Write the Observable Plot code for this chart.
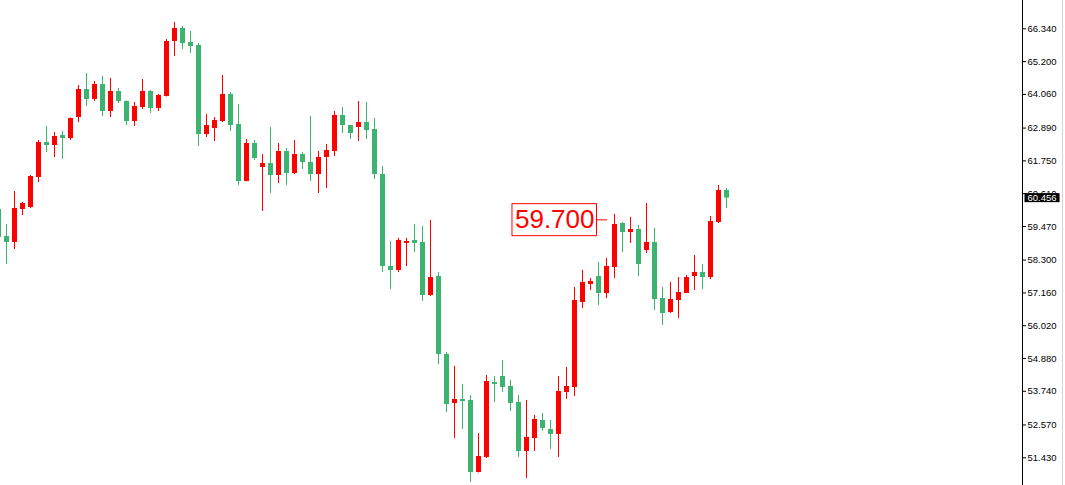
<!DOCTYPE html>
<html>
<head>
<meta charset="utf-8">
<script src="https://cdn.jsdelivr.net/npm/d3@7"></script>
<script src="https://cdn.jsdelivr.net/npm/@observablehq/plot@0.6"></script>
<style>
  html, body { margin: 0; padding: 0; background: #ffffff; }
  #chart { width: 1065px; height: 485px; }
</style>
</head>
<body>
<div id="chart"></div>
<script>
const openPrices = [60.060, 59.121, 58.913, 60.060, 60.129, 61.172, 62.388, 62.284, 62.632, 62.527,
 63.257, 64.231, 63.883, 64.404, 63.466, 64.161, 63.813, 63.118, 63.605, 64.161,
 63.570, 63.987, 65.899, 66.351, 65.864, 65.760, 62.666, 62.875, 63.118, 64.057,
 63.014, 61.033, 62.354, 61.519, 61.659, 61.241, 62.076, 61.311, 61.971, 61.693,
 61.276, 61.867, 62.076, 63.327, 62.979, 62.910, 63.083, 62.840, 61.276, 58.078,
 57.940, 58.878, 58.982, 58.913, 57.070, 57.731, 55.020, 53.317, 53.456, 53.421,
 50.918, 51.440, 54.047, 54.255, 53.908, 53.351, 51.648, 52.100, 52.726, 52.413,
 52.239, 53.699, 53.873, 56.827, 57.453, 57.731, 57.140, 58.044, 59.573, 59.260,
 59.364, 58.634, 58.913, 56.966, 56.480, 56.897, 57.140, 57.731, 57.870, 57.696,
 59.608, 60.720];

const closePrices = [59.086, 58.913, 60.094, 60.268, 61.207, 62.388, 62.284, 62.597, 62.527, 63.223,
 64.231, 63.883, 64.404, 63.466, 64.161, 63.813, 63.118, 63.640, 64.161, 63.570,
 64.022, 65.899, 66.351, 65.829, 65.725, 62.666, 62.979, 63.153, 64.057, 62.979,
 61.033, 62.354, 61.832, 61.659, 61.241, 62.076, 61.311, 61.971, 61.693, 61.276,
 61.867, 62.110, 63.327, 62.979, 62.701, 63.083, 62.806, 61.276, 58.078, 57.940,
 58.982, 58.947, 58.878, 57.070, 57.696, 55.020, 53.282, 53.456, 53.386, 50.918,
 51.474, 54.081, 53.977, 53.873, 53.317, 51.648, 52.135, 52.761, 52.448, 52.239,
 53.734, 53.908, 56.897, 57.522, 57.557, 57.140, 58.078, 59.538, 59.260, 59.364,
 58.148, 58.913, 56.931, 56.445, 56.931, 57.175, 57.696, 57.870, 57.696, 59.643,
 60.720, 60.456];

const highPrices = [60.199, 59.538, 60.685, 60.303, 61.241, 62.458, 62.945, 62.736, 62.771, 63.240,
 64.370, 64.787, 64.509, 64.682, 64.613, 64.265, 63.830, 63.779, 64.578, 64.196,
 64.057, 65.968, 66.559, 66.420, 66.247, 65.829, 63.362, 63.257, 64.717, 64.126,
 63.709, 62.493, 62.458, 61.971, 62.910, 62.354, 62.180, 62.458, 62.041, 63.292,
 62.076, 62.319, 63.466, 63.605, 62.990, 63.813, 63.779, 63.223, 61.554, 58.947,
 59.052, 59.052, 59.538, 59.469, 59.677, 57.870, 55.089, 54.603, 53.977, 53.595,
 52.274, 54.290, 54.255, 54.811, 54.116, 53.595, 53.421, 52.900, 52.969, 52.726,
 54.255, 54.568, 57.349, 57.940, 57.661, 58.217, 58.357, 59.886, 59.608, 59.782,
 59.504, 60.268, 59.399, 57.349, 57.522, 57.696, 57.766, 58.461, 58.148, 59.816,
 60.894, 60.790];

const lowPrices = [58.982, 58.148, 58.669, 59.851, 60.094, 60.998, 62.041, 61.867, 61.798, 62.458,
 63.083, 63.640, 63.813, 63.292, 63.257, 63.744, 62.979, 62.945, 63.535, 63.396,
 63.466, 63.970, 65.378, 65.621, 65.482, 62.249, 62.562, 62.423, 63.083, 62.771,
 60.894, 61.020, 61.763, 59.990, 60.616, 60.963, 60.894, 61.276, 61.450, 61.033,
 60.616, 60.790, 61.902, 62.701, 62.493, 62.423, 62.493, 61.102, 57.870, 57.279,
 57.870, 58.078, 58.565, 56.862, 57.036, 54.672, 53.004, 52.100, 52.413, 50.571,
 50.900, 51.405, 53.351, 53.699, 53.038, 51.440, 50.710, 51.648, 52.343, 51.718,
 51.440, 53.456, 53.560, 56.619, 57.244, 56.723, 56.966, 57.661, 58.565, 58.878,
 57.731, 58.530, 56.549, 56.028, 56.445, 56.271, 57.140, 57.244, 57.279, 57.627,
 59.573, 60.094];

const tickValues = [66.340, 65.200, 64.060, 62.890, 61.750, 60.610, 59.470, 58.300, 57.160, 56.020, 54.880, 53.740, 52.570, 51.430];
const lastPrice = 60.456;
const annotationPrice = 59.700;
const annotationIndex = 74.875;   // where the leader line starts (bar-index units)
const annotationEnd = 76.125;     // where the leader line ends

const upColor = "#ff0000";
const downColor = "#3cb371";

const candles = openPrices.map((o, i) => ({
  i, open: o, close: closePrices[i], high: highPrices[i], low: lowPrices[i]
}));
const color = d => d.close >= d.open ? upColor : downColor;
const fmt = d3.format(".3f");

const chart = Plot.plot({
  width: 1065,
  height: 485,
  marginLeft: 0,
  marginRight: 43,
  marginTop: 0,
  marginBottom: 0,
  style: {background: "#ffffff", fontFamily: "Liberation Sans, Arial, sans-serif", fontSize: "9.5px", color: "#000"},
  x: {domain: [0.25, 128], axis: null},
  y: {domain: [50.466, 67.324], axis: "right", ticks: tickValues, tickFormat: fmt, tickSize: 3, tickPadding: 2, label: null, line: true},
  marks: [
    Plot.ruleX(candles, {x: "i", y1: "low", y2: "high", stroke: color, strokeWidth: 1}),
    Plot.rect(candles, {x1: d => d.i - 0.25, x2: d => d.i + 0.375, y1: "open", y2: "close", fill: color}),
    Plot.ruleY([annotationPrice], {x1: annotationIndex, x2: annotationEnd, stroke: upColor, strokeWidth: 1}),
    Plot.text([annotationPrice], {x: annotationIndex, y: d => d, text: d => fmt(d), dx: -3, textAnchor: "end", fill: upColor, fontSize: 26, fontFamily: "Liberation Sans, Arial, sans-serif"}),
    Plot.text([lastPrice], {x: 128, y: d => d, text: d => fmt(d), dx: 5, textAnchor: "start", fill: "#ffffff", fontSize: 9.5})
  ]
});

document.getElementById("chart").appendChild(chart);

// decorations: box around annotation text, black background behind last-price label, right frame edge
const svg = d3.select(chart);
const textGroups = svg.selectAll('g[aria-label="text"]').nodes();
if (textGroups.length >= 2) {
  const annText = textGroups[0].querySelector("text");
  const b = annText.getBBox();
  d3.select(textGroups[0]).insert("rect", "text")
    .attr("transform", annText.getAttribute("transform"))
    .attr("x", b.x - 3)
    .attr("y", b.y - 0.5)
    .attr("width", b.width + 5)
    .attr("height", b.height + 2)
    .attr("fill", "#ffffff")
    .attr("stroke", upColor)
    .attr("stroke-width", 1);

  const lastText = textGroups[1].querySelector("text");
  const lb = lastText.getBBox();
  d3.select(textGroups[1]).insert("rect", "text")
    .attr("transform", lastText.getAttribute("transform"))
    .attr("x", lb.x - 3)
    .attr("y", lb.y + lb.height / 2 - 4.5)
    .attr("width", lb.width + 6)
    .attr("height", 9)
    .attr("fill", "#000000");
}
svg.append("line")
  .attr("x1", 1062.5).attr("x2", 1062.5)
  .attr("y1", 0).attr("y2", 485)
  .attr("stroke", "#d4d4d4");
</script>
</body>
</html>
